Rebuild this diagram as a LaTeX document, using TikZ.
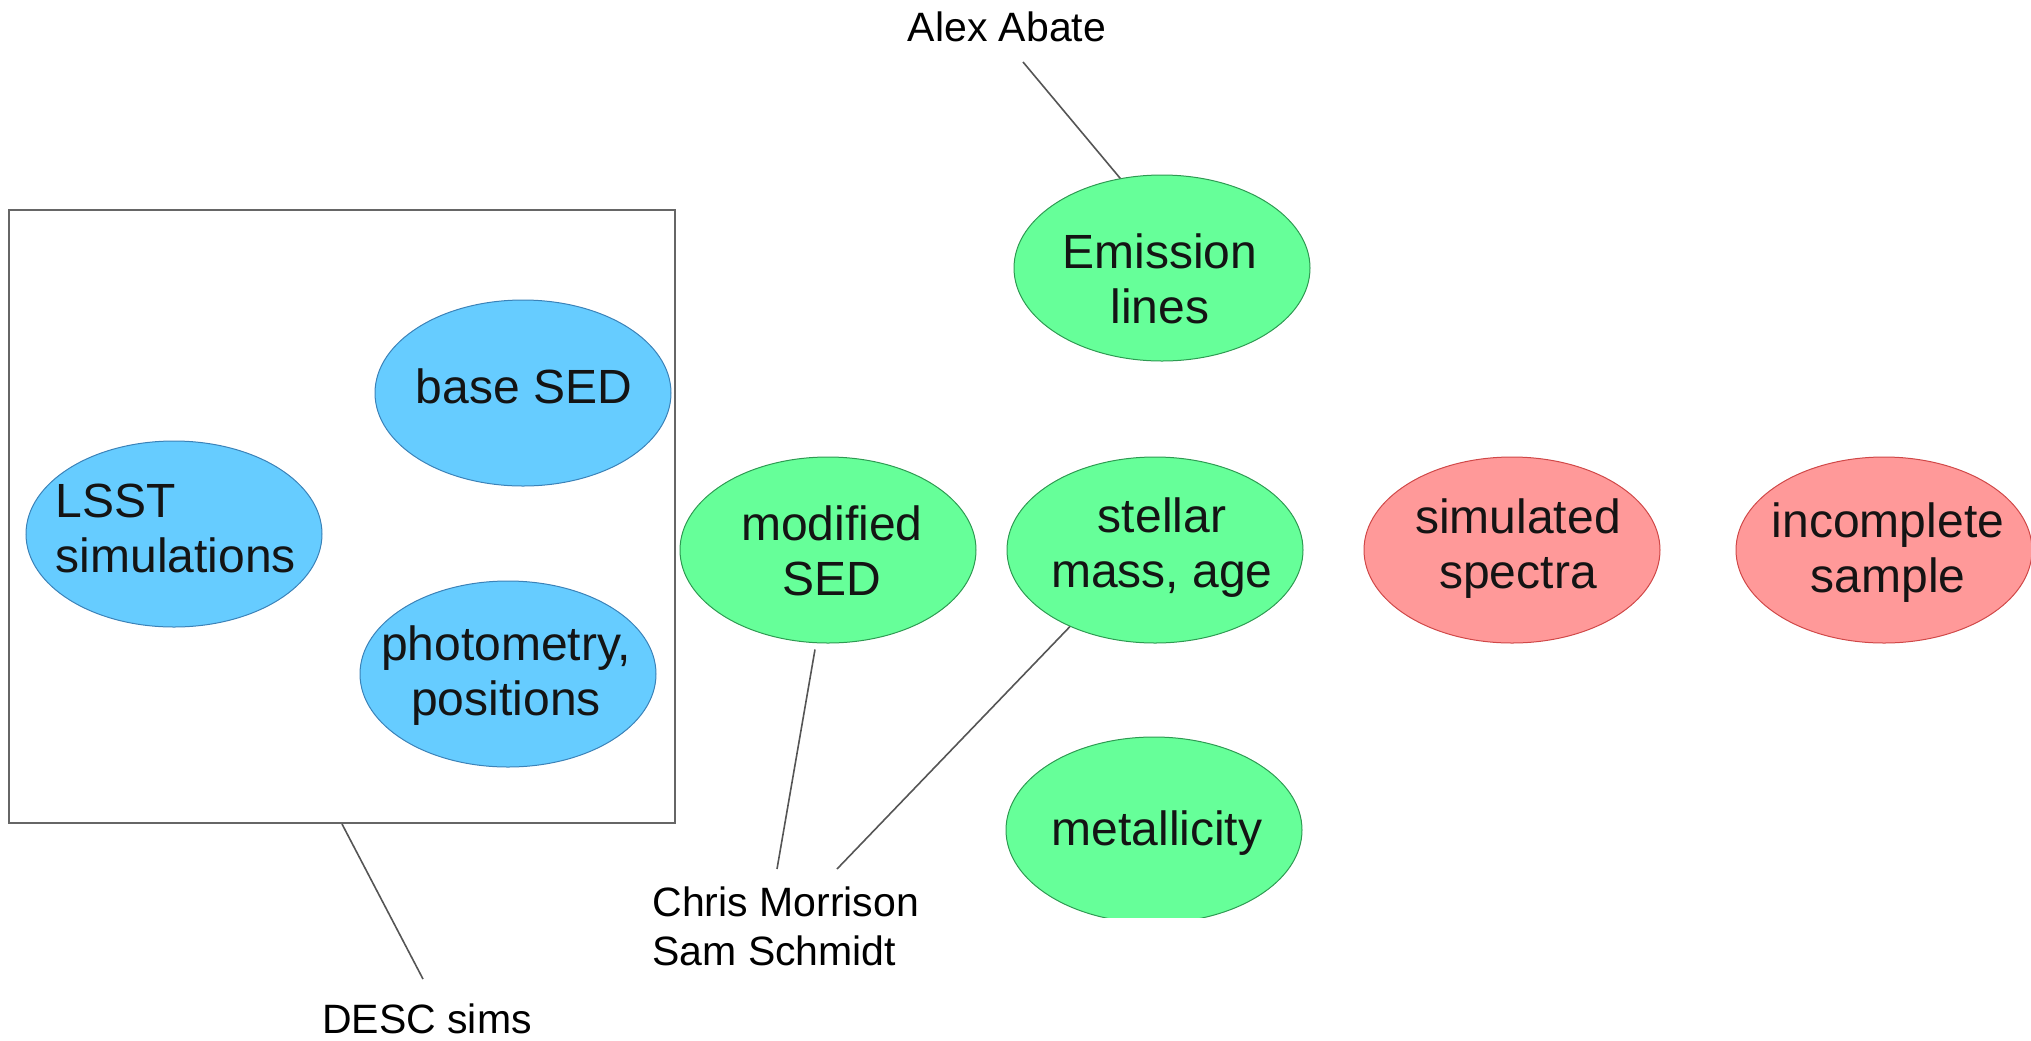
\documentclass[tikz,border=0pt]{standalone}
\usepackage{fontspec}
\setmainfont{Liberation Sans}
\usetikzlibrary{shapes.geometric}

\definecolor{skyfill}{HTML}{66CCFF}
\definecolor{skyline}{HTML}{3B82B8}
\definecolor{mintfill}{HTML}{66FF99}
\definecolor{mintline}{HTML}{2E9A52}
\definecolor{rosefill}{HTML}{FF9999}
\definecolor{roseline}{HTML}{D04848}
\definecolor{leader}{HTML}{555555}
\definecolor{frame}{HTML}{666666}

\begin{document}
\begin{tikzpicture}[x=0.5pt,y=-0.5pt,
  blob/.style={ellipse, inner sep=0pt, minimum width=148pt, minimum height=93pt, line width=0.5pt},
  skyblob/.style={blob, fill=skyfill, draw=skyline},
  mintblob/.style={blob, fill=mintfill, draw=mintline},
  roseblob/.style={blob, fill=rosefill, draw=roseline},
  blobtext/.style={font=\fontsize{24}{27.5}\selectfont, align=center, inner sep=0pt, text=black!92},
  who/.style={font=\fontsize{20.5}{24.6}\selectfont, align=left, inner sep=0pt},
  leaderline/.style={draw=leader, line width=0.8pt}
]
\useasboundingbox (0,0) rectangle (2031,1040);

% DESC simulation group
\node[draw=frame, line width=1pt, minimum width=333pt, minimum height=306.5pt, inner sep=0pt] (simbox) at (342,516.5) {};

\node[skyblob] (lsst) at (174,534) {};
\node[blobtext, align=left] (lsst-t) at (176,528) {LSST\\simulations};

\node[skyblob] (base) at (523,393) {};
\node[blobtext] (base-t) at (524,386) {base SED};

\node[skyblob] (phot) at (508,674) {};
\node[blobtext] (phot-t) at (506,676) {photometry,\\positions};

% galaxy properties
\node[mintblob] (modsed) at (828,550) {};
\node[blobtext] (modsed-t) at (832,551) {modified\\SED};

\node[mintblob] (emis) at (1162,268) {};
\node[blobtext] (emis-t) at (1160,279) {Emission\\lines};

\node[mintblob] (stel) at (1155,550) {};
\node[blobtext] (stel-t) at (1162,548) {stellar\\mass, age};

\begin{scope}
  \clip (990,700) rectangle (1320,917);
  \node[mintblob] (metal) at (1154,830) {};
\end{scope}
\node[blobtext] (metal-t) at (1157,833) {metallicity};

% outputs
\node[roseblob] (simsp) at (1512,550) {};
\node[blobtext] (simsp-t) at (1518,549) {simulated\\spectra};

\node[roseblob] (incomp) at (1884,550) {};
\node[blobtext] (incomp-t) at (1888,553) {incomplete\\sample};

% people
\node[who, anchor=base] (alex) at (1007,41) {Alex Abate};
\node[who, anchor=west] (cm) at (652,926) {Chris Morrison\\Sam Schmidt};
\node[who, anchor=base] (desc) at (427,1033) {DESC sims};

\coordinate (alexfoot) at (1023,62);
\coordinate (cmL) at (777,869);
\coordinate (cmR) at (837,869);
\coordinate (desctop) at (423,979);

\draw[leaderline] (alexfoot) -- (emis.115);
\draw[leaderline] ([shift={(-13,6)}]modsed.south) -- (cmL);
\draw[leaderline] (stel.222) -- (cmR);
\draw[leaderline] (simbox.south) -- (desctop);
\end{tikzpicture}
\end{document}
